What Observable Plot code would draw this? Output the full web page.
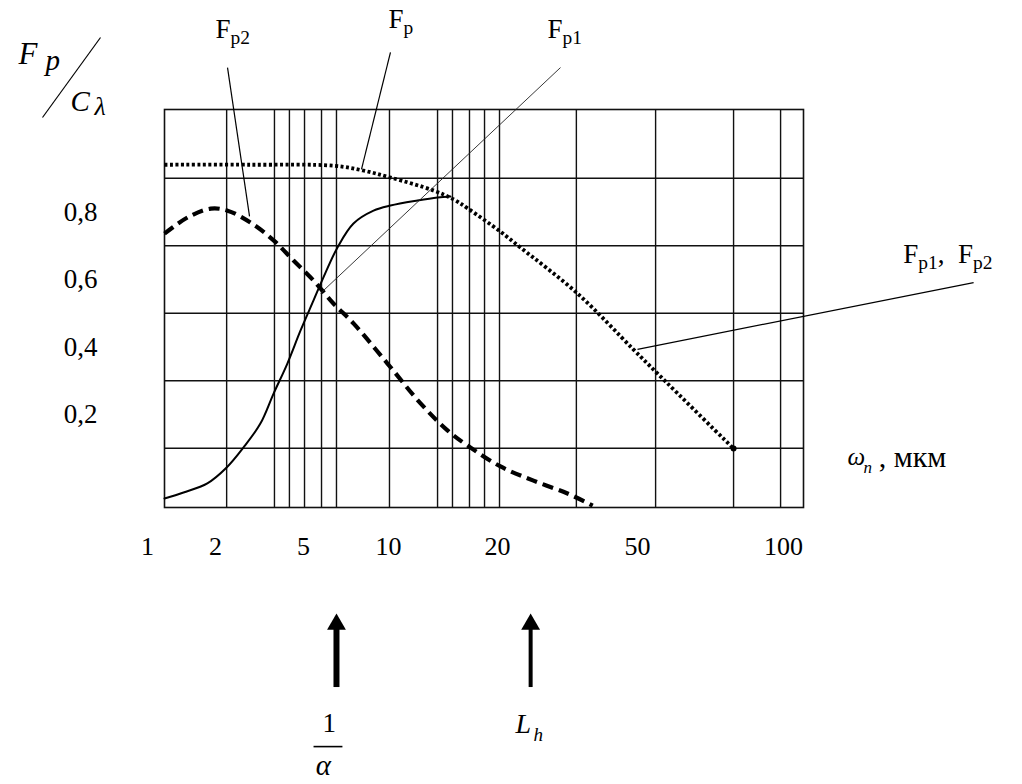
<!DOCTYPE html>
<html>
<head>
<meta charset="utf-8">
<script src="https://cdn.jsdelivr.net/npm/d3@7"></script>
<script src="https://cdn.jsdelivr.net/npm/@observablehq/plot@0.6"></script>
<style>
  html, body { margin: 0; padding: 0; background: #fff; }
  svg { display: block; }
  svg text { white-space: pre; }
</style>
</head>
<body>
<div id="chart"></div>
<script>
// ---- axis ticks (irregular, hand-drawn scale) ----
const xTicks = [1, 2, 5, 10, 20, 50, 100];
const xTickPixels = [147, 215, 303, 388, 497, 637, 783];
const yTicks = [0.2, 0.4, 0.6, 0.8];

// ---- grid lines ----
const gridX = [2.38, 4.01, 4.52, 5.06, 6.06, 6.94, 10.09, 14.5, 15.87, 17.43, 18.81, 20.43, 36.9, 56.2, 82.9, 99.0];
const gridY = [0.1, 0.3, 0.5, 0.7, 0.9];

// ---- series: Fp (dotted) ----
const fpX = [1.25, 3.2, 6.8, 8.5, 10.2, 14.1, 16.0, 17.3, 20.6, 24.9, 37.1, 49.1, 56.9, 82.9];
const fpY = [0.94, 0.94, 0.937, 0.923, 0.902, 0.864, 0.837, 0.81, 0.742, 0.695, 0.559, 0.393, 0.321, 0.099];

// ---- series: Fp2 (dashed) ----
const fp2X = [1.25, 1.59, 1.93, 2.41, 3.19, 3.98, 4.66, 5.59, 6.76, 7.94, 9.94, 12.94, 15.41, 17.25, 20.64, 27.71, 35.0, 40.4];
const fp2Y = [0.736, 0.784, 0.81, 0.804, 0.769, 0.716, 0.656, 0.597, 0.529, 0.47, 0.351, 0.233, 0.153, 0.108, 0.046, 0.004, -0.034, -0.07];

// ---- series: Fp1 (solid) ----
const fp1X = [1.25, 1.53, 1.88, 2.38, 2.95, 3.53, 3.98, 4.45, 4.9, 5.59, 6.18, 7.0, 7.94, 9.12, 10.18, 12.66, 14.5, 15.69];
const fp1Y = [-0.049, -0.031, -0.004, 0.043, 0.102, 0.173, 0.262, 0.351, 0.449, 0.538, 0.607, 0.695, 0.766, 0.804, 0.819, 0.834, 0.843, 0.846];

// ---- annotations (data coordinates) ----
const curveLabels = [
  {x: 2.0, y: 1.317, text: "F_{p2}"},
  {x: 10.0, y: 1.344, text: "F_{p}"},
  {x: 30.7, y: 1.317, text: "F_{p1}"},
  {x: 141.0, y: 0.650, text: "F_{p1},  F_{p2}"}
];
const leaders = [
  {x1: 2.41, y1: 1.228, x2: 3.16, y2: 0.787},
  {x1: 10.18, y1: 1.273, x2: 8.41, y2: 0.926},
  {x1: 165.1, y1: 0.591, x2: 50.0, y2: 0.393}
];
const thinLeaders = [
  {x1: 33.5, y1: 1.228, x2: 6.0, y2: 0.559}
];
const slash = [{x1: 0.309, y1: 1.317, x2: -0.544, y2: 1.080}];
const yTitleF = [{x: -0.897, y: 1.240, text: "F"}];
const yTitleP = [{x: -0.50, y: 1.220, text: "p"}];
const yTitleC = [{x: -0.132, y: 1.098, text: "C"}];
const yTitleL = [{x: 0.22, y: 1.086, text: "λ"}];
const xTitleSymbol = [{x: 121.9, y: 0.049, text: "ω"}];
const xTitleSub = [{x: 127.4, y: 0.028, text: "n"}];
const xTitleUnit = [{x: 132.6, y: 0.043, text: ", мкм"}];

const arrowX = [6.94, 27.1];
const fracOne = [{x: 6.12, y: -0.742, text: "1"}];
const fracBar = [{x1: 5.59, y1: -0.784, x2: 7.29, y2: -0.784}];
const alphaLbl = [{x: 5.72, y: -0.867, text: "α"}];
const lLbl = [{x: 23.86, y: -0.745, text: "L"}];
const hLbl = [{x: 27.7, y: -0.766, text: "h"}];

// build tables
const fp = fpX.map((x, i) => ({x, y: fpY[i]}));
const fp2 = fp2X.map((x, i) => ({x, y: fp2Y[i]}));
const fp1 = fp1X.map((x, i) => ({x, y: fp1Y[i]}));

const FONT = "Liberation Serif, Times New Roman, serif";
const txt = (data, opts) => Plot.text(data, {x: "x", y: "y", text: "text", textAnchor: "start", lineAnchor: "bottom", fill: "black", ...opts});

const plot = Plot.plot({
  width: 1022,
  height: 784,
  marginLeft: 164,
  marginRight: 219,
  marginTop: 109,
  marginBottom: 277,
  style: {fontFamily: FONT, background: "white", color: "black"},
  x: {type: "linear", domain: xTicks, range: xTickPixels},
  y: {type: "linear", domain: [0, 1], range: [481.5, 144]},
  marks: [
    Plot.ruleX(gridX, {x: d => d, stroke: "#111", strokeWidth: 1.4}),
    Plot.ruleY(gridY, {y: d => d, stroke: "#111", strokeWidth: 1.4}),
    Plot.frame({stroke: "#111", strokeWidth: 1.6}),
    Plot.line(fp, {x: "x", y: "y", curve: "catmull-rom", stroke: "black", strokeWidth: 3.8, strokeDasharray: "3,2.5", strokeLinecap: "butt"}),
    Plot.line(fp2, {x: "x", y: "y", curve: "catmull-rom", stroke: "black", strokeWidth: 4.2, strokeDasharray: "11,6", strokeLinecap: "butt"}),
    Plot.line(fp1, {x: "x", y: "y", curve: "catmull-rom", stroke: "black", strokeWidth: 2}),
    Plot.dot(fp.slice(-1), {x: "x", y: "y", r: 3, fill: "black", stroke: null}),
    Plot.link(leaders, {x1: "x1", y1: "y1", x2: "x2", y2: "y2", stroke: "black", strokeWidth: 1.2}),
    Plot.link(thinLeaders, {x1: "x1", y1: "y1", x2: "x2", y2: "y2", stroke: "#222", strokeWidth: 0.9}),
    Plot.link(slash, {x1: "x1", y1: "y1", x2: "x2", y2: "y2", stroke: "black", strokeWidth: 1.2}),
    Plot.axisX({ticks: xTicks, tickSize: 0, tickPadding: 29, fontSize: 26, tickFormat: d => String(d), label: null}),
    Plot.axisY({ticks: yTicks, tickSize: 0, tickPadding: 67, fontSize: 27, tickFormat: d => d.toFixed(1).replace(".", ","), label: null}),
    txt(curveLabels, {fontSize: 27}),
    txt(yTitleF, {fontSize: 31, fontStyle: "italic"}),
    txt(yTitleP, {fontSize: 29, fontStyle: "italic"}),
    txt(yTitleC, {fontSize: 29, fontStyle: "italic"}),
    txt(yTitleL, {fontSize: 26, fontStyle: "italic"}),
    txt(xTitleSymbol, {fontSize: 25, fontStyle: "italic"}),
    txt(xTitleSub, {fontSize: 17, fontStyle: "italic"}),
    txt(xTitleUnit, {fontSize: 30}),
    Plot.ruleX([arrowX[0]], {x: d => d, y1: -0.609, y2: -0.43, stroke: "black", strokeWidth: 6}),
    Plot.ruleX([arrowX[1]], {x: d => d, y1: -0.609, y2: -0.43, stroke: "black", strokeWidth: 4}),
    Plot.dot(arrowX, {x: d => d, y: -0.422, symbol: "triangle", r: 7, fill: "black", stroke: null}),
    txt(fracOne, {fontSize: 27}),
    Plot.link(fracBar, {x1: "x1", y1: "y1", x2: "x2", y2: "y2", stroke: "black", strokeWidth: 1.6}),
    txt(alphaLbl, {fontSize: 29, fontStyle: "italic"}),
    txt(lLbl, {fontSize: 28, fontStyle: "italic"}),
    txt(hLbl, {fontSize: 19, fontStyle: "italic"})
  ]
});

// turn "_{...}" markup into subscripts
const NS = "http://www.w3.org/2000/svg";
plot.querySelectorAll("text").forEach(t => {
  const s = t.textContent;
  if (!s.includes("_{")) return;
  while (t.firstChild) t.removeChild(t.firstChild);
  const re = /_\{([^}]*)\}/g;
  let last = 0, m, down = false;
  const add = (str, sub) => {
    if (!str) return;
    const ts = document.createElementNS(NS, "tspan");
    ts.textContent = str;
    if (sub) { ts.setAttribute("font-size", "72%"); ts.setAttribute("dy", "6"); down = true; }
    else if (down) { ts.setAttribute("dy", "-6"); down = false; }
    t.appendChild(ts);
  };
  while ((m = re.exec(s))) {
    add(s.slice(last, m.index), false);
    add(m[1], true);
    last = re.lastIndex;
  }
  add(s.slice(last), false);
});

document.getElementById("chart").appendChild(plot);
</script>
</body>
</html>
